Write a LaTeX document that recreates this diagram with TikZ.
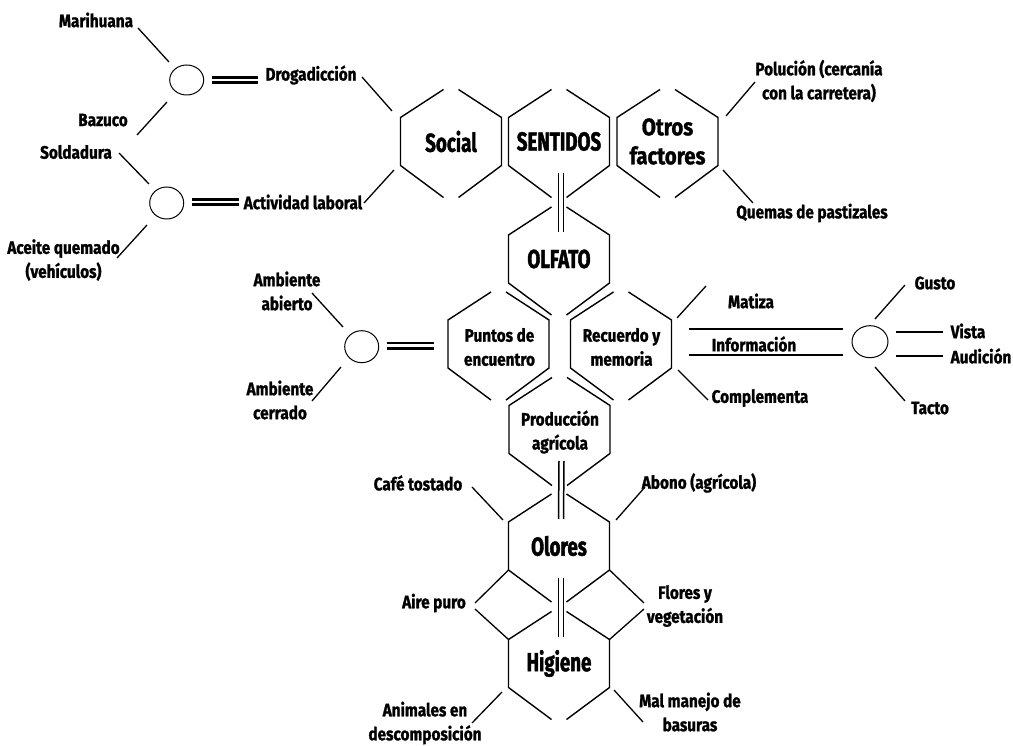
\documentclass[tikz,border=0pt]{standalone}
\usepackage{fontspec}
\setmainfont{Fira Sans}[FakeStretch=0.85,FakeBold=1.2]
\newfontfamily\bigf{Fira Sans}[FakeStretch=0.72,FakeBold=1.6]
\usetikzlibrary{shapes.geometric}
\tikzset{
  lab/.style={font=\fontsize{18}{24}\selectfont\bfseries, align=center, inner sep=0pt},
  mid/.style={font=\fontsize{24}{29}\selectfont\bfseries, align=center, inner sep=0pt},
  big/.style={font=\bigf\fontsize{26}{30}\selectfont\bfseries, align=center, inner sep=0pt},
  hexl/.style={line width=1.4pt, line join=miter},
  conn/.style={line width=1.3pt},
  ring/.style={draw, ellipse, line width=1pt, inner sep=0pt},
  dbl/.style={line width=2.4pt},
  vdbl/.style={line width=1.5pt},
  info/.style={line width=2.8pt}
}
\newcommand\hexa[1]{%
  \draw[hexl] ([shift={(-7.5,-52)}]#1.center) -- ([shift={(-50.5,-24)}]#1.center) -- ([shift={(-50.5,24)}]#1.center) -- ([shift={(-7.5,56)}]#1.center);
  \draw[hexl] ([shift={(7.5,-52)}]#1.center) -- ([shift={(50.5,-24)}]#1.center) -- ([shift={(50.5,24)}]#1.center) -- ([shift={(7.5,56)}]#1.center);}
\newcommand\vlink[2]{%
  \draw[vdbl] ([shift={(-0.5,31.5)}]#1.center) -- ([shift={(-0.5,-27)}]#2.center);
  \draw[vdbl] ([shift={(4.5,31.5)}]#1.center) -- ([shift={(4.5,-27)}]#2.center);}
\begin{document}
\begin{tikzpicture}[x=1pt,y=-1pt]
\fill[white] (0,0) rectangle (1013,746);
\useasboundingbox (0,0) rectangle (1013,746);

% hexagon nodes
\node[big] (soc) at (451,141.5) {Social};
\node[big] (sen) at (559,141.5) {SENTIDOS};
\node[mid] (otr) at (667.5,141.5) {Otros\\factores};
\node[big] (olf) at (559,259) {OLFATO};
\node[lab] (pun) at (499.5,347) {Puntos de\\encuentro};
\node[lab] (rec) at (621.5,347) {Recuerdo y\\memoria};
\node[lab] (pro) at (560,432) {Producción\\agrícola};
\node[big] (olo) at (559,546) {Olores};
\node[big] (hig) at (559,663.5) {Higiene};

\coordinate (hpun) at (498.5,344);
\coordinate (hrec) at (621,344);
\coordinate (hpro) at (559.5,429.5);
\coordinate (hotr) at (667.5,141.5);

\hexa{soc}\hexa{sen}\hexa{hotr}\hexa{olf}\hexa{hpun}\hexa{hrec}\hexa{hpro}\hexa{olo}\hexa{hig}

\vlink{sen}{olf}
\vlink{hpro}{olo}
\vlink{olo}{hig}

% outer labels
\node[lab] (mar) at (96,20) {Marihuana};
\node[lab] (dro) at (311,75) {Drogadicción};
\node[lab] (baz) at (103,120) {Bazuco};
\node[lab] (sol) at (76,152) {Soldadura};
\node[lab] (act) at (303,202) {Actividad laboral};
\node[lab] (ace) at (63.5,260) {Aceite quemado\\(vehículos)};
\node[lab] (pol) at (819,81) {Polución (cercanía\\con la carretera)};
\node[lab] (que) at (812,213) {Quemas de pastizales};
\node[lab] (aab) at (287,291) {Ambiente\\abierto};
\node[lab] (ace2) at (280,400) {Ambiente\\cerrado};
\node[lab] (mat) at (751,301) {Matiza};
\node[lab] (inf) at (754,344) {Información};
\node[lab] (com) at (760,398) {Complementa};
\node[lab] (gus) at (935,283) {Gusto};
\node[lab] (vis) at (968,331) {Vista};
\node[lab] (aud) at (981,356) {Audición};
\node[lab] (tac) at (930,408) {Tacto};
\node[lab] (caf) at (418,483) {Café tostado};
\node[lab] (abo) at (699,483) {Abono (agrícola)};
\node[lab] (air) at (434,603) {Aire puro};
\node[lab] (flo) at (685,606) {Flores y\\vegetación};
\node[lab] (ani) at (425,723) {Animales en\\descomposición};
\node[lab] (mal) at (690,712) {Mal manejo de\\basuras};

% circles
\node[ring, minimum width=34pt, minimum height=30pt] (c1) at (186.7,80) {};
\node[ring, minimum width=34pt, minimum height=32pt] (c2) at (166.7,203) {};
\node[ring, minimum width=34pt, minimum height=32pt] (c3) at (361.7,346.7) {};
\node[ring, minimum width=36pt, minimum height=32pt] (c4) at (870,341.7) {};

% double horizontal links
\draw[dbl] (212,77.5) -- (258,77.5);
\draw[dbl] (212,82.5) -- (258,82.5);
\draw[dbl] (192,199.5) -- (239,199.5);
\draw[dbl] (192,204.5) -- (239,204.5);
\draw[dbl] (387,343) -- (434,343);
\draw[dbl] (387,348.5) -- (434,348.5);
\draw[info] (689,329) -- (843,329);
\draw[info] (689,355) -- (843,355);
\draw[dbl] (896,332) -- (943,332);
\draw[dbl] (896,356) -- (943,356);

% ticks
\draw[conn] (138,28) -- (169,62);
\draw[conn] (167,102) -- (137,135);
\draw[conn] (119,153) -- (149,184);
\draw[conn] (147,225) -- (117,258);
\draw[conn] (362,77) -- (392,111);
\draw[conn] (394,170) -- (364,203);
\draw[conn] (755,82) -- (726,116);
\draw[conn] (723,170) -- (753,203);
\draw[conn] (312,293) -- (343,327);
\draw[conn] (341,367) -- (312,401);
\draw[conn] (677,318) -- (706,286);
\draw[conn] (678,370) -- (708,400);
\draw[conn] (905,285) -- (875,319);
\draw[conn] (875,367) -- (905,401);
\draw[conn] (472,487) -- (503,520);
\draw[conn] (645,487) -- (616,520);
\draw[conn] ([shift={(-50.5,24)}]olo.center) -- (475,603);
\draw[conn] (475,609) -- ([shift={(-50.5,-24)}]hig.center);
\draw[conn] ([shift={(50.5,24)}]olo.center) -- (644,603);
\draw[conn] (644,609) -- ([shift={(50.5,-24)}]hig.center);
\draw[conn] (502,692) -- (472,723);
\draw[conn] (614,690) -- (643,722);
\end{tikzpicture}
\end{document}
